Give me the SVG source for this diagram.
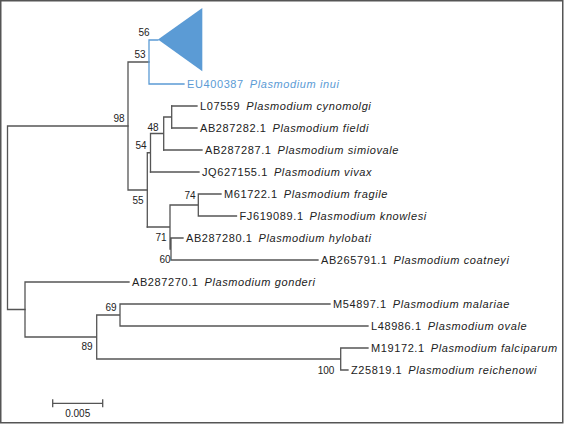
<svg xmlns="http://www.w3.org/2000/svg" width="564" height="424" viewBox="0 0 564 424">
<style>
.br{fill:none;stroke:#555;stroke-width:1.3;stroke-linecap:square}
.bl{fill:none;stroke:#5b9bd5;stroke-width:1.3;stroke-linecap:square}
.lb{font-family:"Liberation Sans",Arial,sans-serif;font-size:11px;fill:#222;letter-spacing:0.6px}
.bs{font-family:"Liberation Sans",Arial,sans-serif;font-size:10px;fill:#222;text-anchor:middle}
.sp{font-style:italic}
.blt{fill:#5b9bd5}
</style>
<rect x="0.75" y="0.75" width="562" height="422" fill="#fff" stroke="#555" stroke-width="1.5"/>
<g id="connectors">
<path class="br" d="M7.5,126 H128 M7.5,126 V309.5 M7.5,309.5 H25"/>
<path class="br" d="M128,62 V190 M128,62 H149 M128,190 H147.3"/>
<path class="bl" d="M149,40 V84 M149,40 H158 M149,84 H184"/>
<path class="br" d="M147.3,152.75 V227 M147.3,152.75 H150.5 M150.5,133.5 V172 M150.5,133.5 H163.7 M163.7,117 V150 M163.7,117 H171.7 M171.7,106 V128"/>
<path class="br" d="M171.7,106 H197 M171.7,128 H197 M163.7,150 H202 M150.5,172 H199"/>
<path class="br" d="M147.3,227 H170 M170,205 V249 M170,205 H198.3 M198.3,194 V216 M198.3,194 H221 M198.3,216 H236.5 M170,249 H171 M171,238 V260 M171,238 H183 M171,260 H318"/>
<path class="br" d="M25,282 V337 M25,282 H129 M25,337 H96.7 M96.7,315 V359 M96.7,315 H120 M120,304 V326 M120,304 H330 M120,326 H368 M96.7,359 H340.7 M340.7,348 V370 M340.7,348 H368 M340.7,370 H348"/>
</g>
<g id="inui-clade"><path class="blt" d="M158,39.5 L202.3,8 L202.3,71.3 Z"/></g>
<g id="EU400387"><text class="lb blt" x="187" y="88">EU400387<tspan class="sp" dx="6">Plasmodium inui</tspan></text></g>
<g id="L07559"><text class="lb" x="200" y="110">L07559<tspan class="sp" dx="6">Plasmodium cynomolgi</tspan></text></g>
<g id="AB287282"><text class="lb" x="200" y="132">AB287282.1<tspan class="sp" dx="6">Plasmodium fieldi</tspan></text></g>
<g id="AB287287"><text class="lb" x="205" y="154">AB287287.1<tspan class="sp" dx="6">Plasmodium simiovale</tspan></text></g>
<g id="JQ627155"><text class="lb" x="202" y="176">JQ627155.1<tspan class="sp" dx="6">Plasmodium vivax</tspan></text></g>
<g id="M61722"><text class="lb" x="224" y="198">M61722.1<tspan class="sp" dx="6">Plasmodium fragile</tspan></text></g>
<g id="FJ619089"><text class="lb" x="239.5" y="220">FJ619089.1<tspan class="sp" dx="6">Plasmodium knowlesi</tspan></text></g>
<g id="AB287280"><text class="lb" x="186" y="242">AB287280.1<tspan class="sp" dx="6">Plasmodium hylobati</tspan></text></g>
<g id="AB265791"><text class="lb" x="321" y="264">AB265791.1<tspan class="sp" dx="6">Plasmodium coatneyi</tspan></text></g>
<g id="AB287270"><text class="lb" x="132" y="286">AB287270.1<tspan class="sp" dx="6">Plasmodium gonderi</tspan></text></g>
<g id="M54897"><text class="lb" x="333" y="308">M54897.1<tspan class="sp" dx="6">Plasmodium malariae</tspan></text></g>
<g id="L48986"><text class="lb" x="371" y="330">L48986.1<tspan class="sp" dx="6">Plasmodium ovale</tspan></text></g>
<g id="M19172"><text class="lb" x="371" y="352">M19172.1<tspan class="sp" dx="6">Plasmodium falciparum</tspan></text></g>
<g id="Z25819"><text class="lb" x="351" y="374">Z25819.1<tspan class="sp" dx="6">Plasmodium reichenowi</tspan></text></g>
<g id="bootstrap">
<text class="bs" x="144" y="36">56</text>
<text class="bs" x="140" y="58">53</text>
<text class="bs" x="119" y="122">98</text>
<text class="bs" x="153" y="131">48</text>
<text class="bs" x="141" y="149">54</text>
<text class="bs" x="138" y="204">55</text>
<text class="bs" x="190" y="199">74</text>
<text class="bs" x="161" y="241">71</text>
<text class="bs" x="165" y="263">60</text>
<text class="bs" x="111" y="311">69</text>
<text class="bs" x="87" y="350">89</text>
<text class="bs" x="326" y="374">100</text>
</g>
<g id="scale-bar">
<path class="br" d="M52.7,403.3 H102.7 M52.7,400 V406.6 M102.7,400 V406.6"/>
<text class="bs" x="77.7" y="417">0.005</text>
</g>
</svg>
